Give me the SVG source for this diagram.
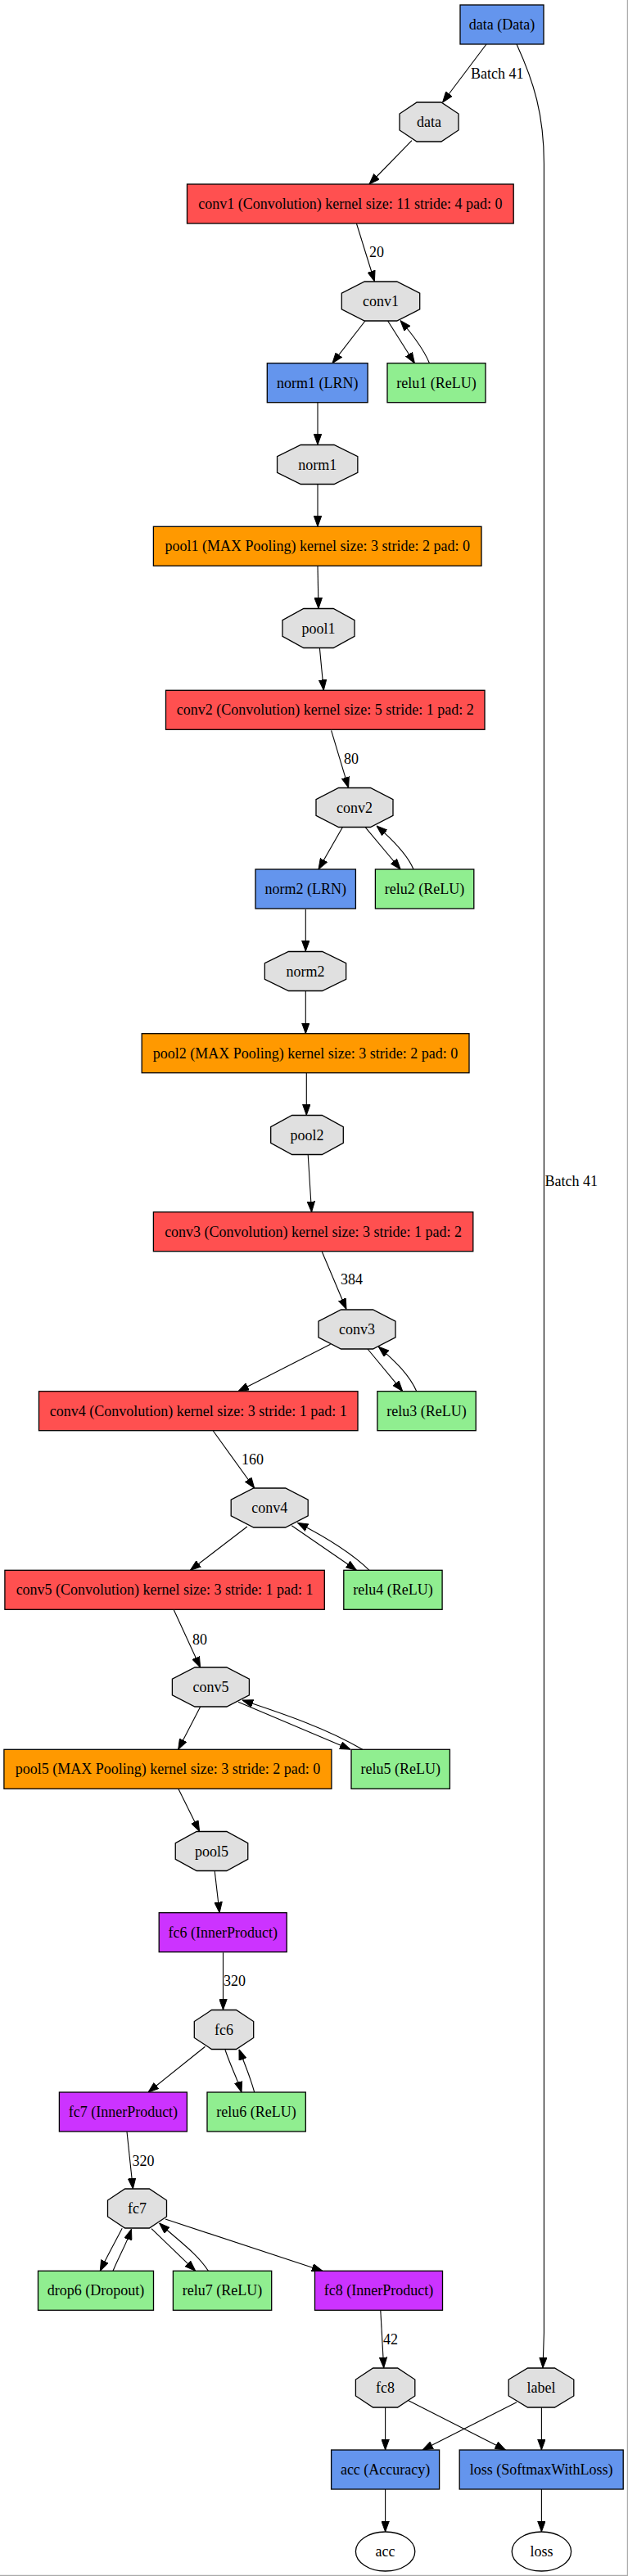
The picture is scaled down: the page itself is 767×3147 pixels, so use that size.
<svg xmlns="http://www.w3.org/2000/svg" width="767" height="3147" viewBox="0 0 767 3147">
<defs>
<marker id="ah" markerUnits="userSpaceOnUse" markerWidth="13" markerHeight="10" refX="13" refY="5" orient="auto"><path d="M0,0.3 L13,5 L0,9.7 z" fill="#000" stroke="#000" stroke-width="1"/></marker>
<style>
.t{font-family:"Liberation Serif","Times New Roman",serif;font-size:18px;fill:#000;text-anchor:middle}
.el{font-family:"Liberation Serif","Times New Roman",serif;font-size:18px;fill:#000;text-anchor:start}
.box{stroke:#000;stroke-width:1.3}
.conv{fill:#FF5050}
.pool{fill:#FF9900}
.ip{fill:#CC33FF}
.blue{fill:#6495ED}
.relu{fill:#90EE90}
.blob{fill:#E0E0E0;stroke:#000;stroke-width:1.3}
.end{fill:#fff;stroke:#000;stroke-width:1.3}
#edges path{fill:none;stroke:#000;stroke-width:1.1;marker-end:url(#ah)}
</style>
</defs>
<rect x="0" y="0" width="767" height="3147" fill="#fff"/>
<path d="M766.5,0 V3146.5 H0" fill="none" stroke="#aaa" stroke-width="1.5"/>

<g id="edges">
<path d="M594,54 L540.6,125"/>
<path d="M503,171.7 L451,225"/>
<path d="M435.4,273 L457.4,343.7"/>
<path d="M446,392 L406,443.7"/>
<path d="M473.6,392 L506.4,443.7"/>
<path d="M524.5,443.7 C518,428 505,410 489,391.5"/>
<path d="M388,492 L388,543.3"/>
<path d="M388,591.7 L388,643.3"/>
<path d="M388,691.7 L389,743.3"/>
<path d="M390.4,791.7 L395.3,843.3"/>
<path d="M404.6,892.3 L425.6,962.3"/>
<path d="M418.3,1010.7 L389,1062"/>
<path d="M446.2,1010.7 L489.2,1062"/>
<path d="M505,1062 C498,1045 482,1028 460,1009"/>
<path d="M373.3,1111 L373.3,1162"/>
<path d="M373.3,1211 L373.3,1262.7"/>
<path d="M374.3,1310.3 L374.3,1362.3"/>
<path d="M376.2,1410.7 L380.6,1480.7"/>
<path d="M393.3,1529.3 L423,1599.5"/>
<path d="M403.6,1642.3 L291,1699.7"/>
<path d="M449,1648 L491.7,1699.7"/>
<path d="M508.8,1699.7 C500,1680 484,1664 462.3,1645.3"/>
<path d="M260.3,1748 L310.7,1818"/>
<path d="M301.9,1865 L232.4,1918.3"/>
<path d="M356.2,1863.7 L435.4,1918.3"/>
<path d="M451,1918.3 C428,1896 398,1878 363.5,1860.3"/>
<path d="M212.3,1966.7 L244.6,2037"/>
<path d="M244.6,2085.3 L217.7,2137.3"/>
<path d="M291,2079.3 L428,2137.3"/>
<path d="M442.8,2137.3 C400,2112 350,2095 296,2077"/>
<path d="M217.7,2185 L243.6,2237.3"/>
<path d="M262.2,2285.7 L268.1,2336.7"/>
<path d="M272.5,2385.3 L272.5,2455.3"/>
<path d="M250.5,2500.3 L181,2556"/>
<path d="M275,2504.3 C282,2525 290,2540 295,2556"/>
<path d="M310.7,2556 C305,2535 298,2520 292,2503.7"/>
<path d="M155,2604.3 L162.4,2674"/>
<path d="M149.2,2722.3 C140,2740 130,2758 122.3,2774.3"/>
<path d="M138,2774.3 C146,2755 155,2740 160.5,2723.3"/>
<path d="M185,2722.7 L238.7,2774.3"/>
<path d="M254.4,2774.3 C240,2752 215,2735 194.7,2716"/>
<path d="M202,2711 L393.8,2774.3"/>
<path d="M464.8,2822.7 L468.7,2892.7"/>
<path d="M631,54 C652,100 664.4,140 664.4,200 L664.4,2850 L663,2892.7"/>
<path d="M470.6,2941.3 L470.6,2993"/>
<path d="M498,2932.3 L617.4,2993"/>
<path d="M631,2934.7 L516,2993"/>
<path d="M661.4,2941.3 L661.4,2993"/>
<path d="M470.6,3040.7 L470.6,3093"/>
<path d="M661.4,3040.7 L661.4,3093"/>
</g>
<g id="edge-labels">
<text class="el" x="575" y="96">Batch 41</text>
<text class="el" x="451" y="314">20</text>
<text class="el" x="420" y="933">80</text>
<text class="el" x="416" y="1569">384</text>
<text class="el" x="295" y="1789">160</text>
<text class="el" x="235" y="2009">80</text>
<text class="el" x="273" y="2426">320</text>
<text class="el" x="161.5" y="2646">320</text>
<text class="el" x="468" y="2864">42</text>
<text class="el" x="665.5" y="1449">Batch 41</text>
</g>

<g id="data_layer"><rect class="box blue" x="562" y="6" width="102" height="48"/><text class="t" x="613" y="36">data (Data)</text></g>
<g id="data_blob"><polygon class="blob" points="509.1,125 538.9,125 560,139.06 560,158.94 538.9,173 509.1,173 488,158.94 488,139.06"/><text class="t" x="524" y="155">data</text></g>
<g id="conv1_layer"><rect class="box conv" x="228.5" y="225" width="398.7" height="48"/><text class="t" x="427.9" y="255">conv1 (Convolution) kernel size: 11 stride: 4 pad: 0</text></g>
<g id="conv1_blob"><polygon class="blob" points="445.25,344 484.75,344 512.7,358.06 512.7,377.94 484.75,392 445.25,392 417.3,377.94 417.3,358.06"/><text class="t" x="465" y="374">conv1</text></g>
<g id="norm1_layer"><rect class="box blue" x="326.3" y="443.7" width="122.8" height="48"/><text class="t" x="387.7" y="473.7">norm1 (LRN)</text></g>
<g id="relu1_layer"><rect class="box relu" x="473" y="443.7" width="120" height="48"/><text class="t" x="533" y="473.7">relu1 (ReLU)</text></g>
<g id="norm1_blob"><polygon class="blob" points="367.35,543.5 408.05,543.5 436.85,557.56 436.85,577.44 408.05,591.5 367.35,591.5 338.55,577.44 338.55,557.56"/><text class="t" x="387.7" y="573.5">norm1</text></g>
<g id="pool1_layer"><rect class="box pool" x="187.4" y="643.3" width="400.6" height="48"/><text class="t" x="387.7" y="673.3">pool1 (MAX Pooling) kernel size: 3 stride: 2 pad: 0</text></g>
<g id="pool1_blob"><polygon class="blob" points="370.8,743.5 407.2,743.5 433,757.56 433,777.44 407.2,791.5 370.8,791.5 345,777.44 345,757.56"/><text class="t" x="389" y="773.5">pool1</text></g>
<g id="conv2_layer"><rect class="box conv" x="202.5" y="843.3" width="389.5" height="48"/><text class="t" x="397.3" y="873.3">conv2 (Convolution) kernel size: 5 stride: 1 pad: 2</text></g>
<g id="conv2_blob"><polygon class="blob" points="413.54,962.5 452.46,962.5 480,976.56 480,996.44 452.46,1010.5 413.54,1010.5 386,996.44 386,976.56"/><text class="t" x="433" y="992.5">conv2</text></g>
<g id="norm2_layer"><rect class="box blue" x="312" y="1062" width="122.4" height="48"/><text class="t" x="373.2" y="1092">norm2 (LRN)</text></g>
<g id="relu2_layer"><rect class="box relu" x="458.4" y="1062" width="120.4" height="48"/><text class="t" x="518.6" y="1092">relu2 (ReLU)</text></g>
<g id="norm2_blob"><polygon class="blob" points="352.45,1162.5 393.55,1162.5 422.65,1176.56 422.65,1196.44 393.55,1210.5 352.45,1210.5 323.35,1196.44 323.35,1176.56"/><text class="t" x="373" y="1192.5">norm2</text></g>
<g id="pool2_layer"><rect class="box pool" x="173.2" y="1262.7" width="399.8" height="48"/><text class="t" x="373.1" y="1292.7">pool2 (MAX Pooling) kernel size: 3 stride: 2 pad: 0</text></g>
<g id="pool2_blob"><polygon class="blob" points="356.66,1362.5 393.34,1362.5 419.3,1376.56 419.3,1396.44 393.34,1410.5 356.66,1410.5 330.7,1396.44 330.7,1376.56"/><text class="t" x="375" y="1392.5">pool2</text></g>
<g id="conv3_layer"><rect class="box conv" x="187.4" y="1480.7" width="390.4" height="48"/><text class="t" x="382.6" y="1510.7">conv3 (Convolution) kernel size: 3 stride: 1 pad: 2</text></g>
<g id="conv3_blob"><polygon class="blob" points="416.54,1600 455.46,1600 483,1614.06 483,1633.94 455.46,1648 416.54,1648 389,1633.94 389,1614.06"/><text class="t" x="436" y="1630">conv3</text></g>
<g id="conv4_layer"><rect class="box conv" x="47.5" y="1699.7" width="389.5" height="48"/><text class="t" x="242.2" y="1729.7">conv4 (Convolution) kernel size: 3 stride: 1 pad: 1</text></g>
<g id="relu3_layer"><rect class="box relu" x="460.9" y="1699.7" width="120.3" height="48"/><text class="t" x="521" y="1729.7">relu3 (ReLU)</text></g>
<g id="conv4_blob"><polygon class="blob" points="309.74,1818 348.66,1818 376.2,1832.06 376.2,1851.94 348.66,1866 309.74,1866 282.2,1851.94 282.2,1832.06"/><text class="t" x="329.2" y="1848">conv4</text></g>
<g id="conv5_layer"><rect class="box conv" x="5.9" y="1918.3" width="390.4" height="48"/><text class="t" x="201.1" y="1948.3">conv5 (Convolution) kernel size: 3 stride: 1 pad: 1</text></g>
<g id="relu4_layer"><rect class="box relu" x="419.8" y="1918.3" width="120.3" height="48"/><text class="t" x="480" y="1948.3">relu4 (ReLU)</text></g>
<g id="conv5_blob"><polygon class="blob" points="237.94,2037 276.86,2037 304.4,2051.06 304.4,2070.94 276.86,2085 237.94,2085 210.4,2070.94 210.4,2051.06"/><text class="t" x="257.4" y="2067">conv5</text></g>
<g id="pool5_layer"><rect class="box pool" x="4.9" y="2137.3" width="400" height="48"/><text class="t" x="205" y="2167.3">pool5 (MAX Pooling) kernel size: 3 stride: 2 pad: 0</text></g>
<g id="relu5_layer"><rect class="box relu" x="429" y="2137.3" width="120.4" height="48"/><text class="t" x="489.2" y="2167.3">relu5 (ReLU)</text></g>
<g id="pool5_blob"><polygon class="blob" points="240.18,2237.5 276.82,2237.5 302.75,2251.56 302.75,2271.44 276.82,2285.5 240.18,2285.5 214.25,2271.44 214.25,2251.56"/><text class="t" x="258.5" y="2267.5">pool5</text></g>
<g id="fc6_layer"><rect class="box ip" x="194.2" y="2336.7" width="156" height="48"/><text class="t" x="272.2" y="2366.7">fc6 (InnerProduct)</text></g>
<g id="fc6_blob"><polygon class="blob" points="258.51,2455.5 288.49,2455.5 309.7,2469.56 309.7,2489.44 288.49,2503.5 258.51,2503.5 237.3,2489.44 237.3,2469.56"/><text class="t" x="273.5" y="2485.5">fc6</text></g>
<g id="fc7_layer"><rect class="box ip" x="72.4" y="2556" width="156" height="48"/><text class="t" x="150.4" y="2586">fc7 (InnerProduct)</text></g>
<g id="relu6_layer"><rect class="box relu" x="253" y="2556" width="120.3" height="48"/><text class="t" x="313" y="2586">relu6 (ReLU)</text></g>
<g id="fc7_blob"><polygon class="blob" points="152.6,2674 182.4,2674 203.5,2688.06 203.5,2707.94 182.4,2722 152.6,2722 131.5,2707.94 131.5,2688.06"/><text class="t" x="167.5" y="2704">fc7</text></g>
<g id="drop6_layer"><rect class="box relu" x="46.5" y="2774.3" width="141" height="48"/><text class="t" x="117" y="2804.3">drop6 (Dropout)</text></g>
<g id="relu7_layer"><rect class="box relu" x="211.4" y="2774.3" width="120.3" height="48"/><text class="t" x="271.5" y="2804.3">relu7 (ReLU)</text></g>
<g id="fc8_layer"><rect class="box ip" x="384.5" y="2774.3" width="156" height="48"/><text class="t" x="462.5" y="2804.3">fc8 (InnerProduct)</text></g>
<g id="fc8_blob"><polygon class="blob" points="455.6,2893 485.6,2893 506.8,2907.06 506.8,2926.94 485.6,2941 455.6,2941 434.4,2926.94 434.4,2907.06"/><text class="t" x="470.6" y="2923">fc8</text></g>
<g id="label_blob"><polygon class="blob" points="644.5,2893 677.5,2893 700.8,2907.06 700.8,2926.94 677.5,2941 644.5,2941 621.2,2926.94 621.2,2907.06"/><text class="t" x="661" y="2923">label</text></g>
<g id="acc_layer"><rect class="box blue" x="404.6" y="2993" width="132" height="48"/><text class="t" x="470.6" y="3023">acc (Accuracy)</text></g>
<g id="loss_layer"><rect class="box blue" x="561.2" y="2993" width="200" height="48"/><text class="t" x="661.2" y="3023">loss (SoftmaxWithLoss)</text></g>
<g id="acc_out"><ellipse class="end" cx="470.6" cy="3117" rx="36.2" ry="24"/><text class="t" x="470.6" y="3123">acc</text></g>
<g id="loss_out"><ellipse class="end" cx="661.4" cy="3117" rx="36.2" ry="24"/><text class="t" x="661.4" y="3123">loss</text></g>
</svg>
